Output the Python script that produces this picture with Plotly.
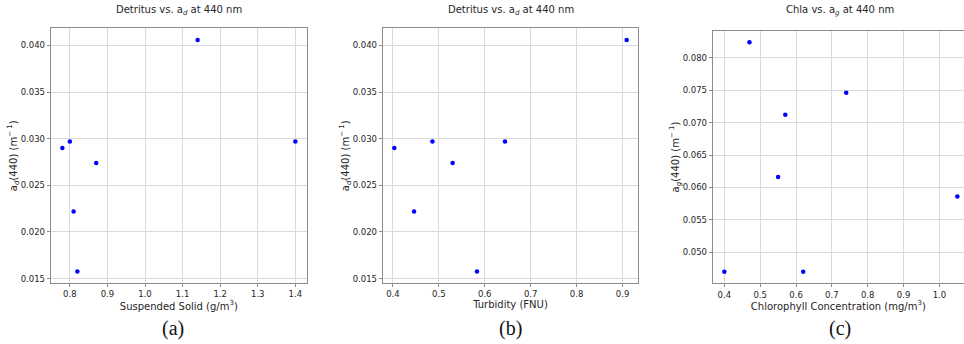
import plotly.graph_objects as go

# ---- data ----
ss_x = [0.78, 0.80, 0.81, 0.82, 0.87, 1.14, 1.40]
ss_y = [0.0290, 0.0297, 0.0222, 0.01575, 0.0274, 0.0406, 0.0297]

turb_x = [0.403, 0.446, 0.486, 0.530, 0.583, 0.644, 0.909]
turb_y = [0.0290, 0.0222, 0.0297, 0.0274, 0.01575, 0.0297, 0.0406]

chla_x = [0.40, 0.47, 0.55, 0.57, 0.62, 0.74, 1.05]
chla_y = [0.0470, 0.0824, 0.0616, 0.0712, 0.0470, 0.0746, 0.0586]

titles = ["Detritus vs. a<sub><i>d</i></sub> at 440 nm",
          "Detritus vs. a<sub><i>d</i></sub> at 440 nm",
          "Chla vs. a<sub><i>g</i></sub> at 440 nm"]
xtitles = ["Suspended Solid (g/m<sup>3</sup>)",
           "Turbidity (FNU)",
           "Chlorophyll Concentration (mg/m<sup>3</sup>)"]
ytitles = ["a<sub><i>d</i></sub>(440) (m<sup>\u2212 1</sup>)",
           "a<sub><i>d</i></sub>(440) (m<sup>\u2212 1</sup>)",
           "a<sub><i>g</i></sub>(440) (m<sup>\u2212 1</sup>)"]
panel_labels = ["(a)", "(b)", "(c)"]

W, H = 964, 344
FONT = "DejaVu Sans"
TXT = "#262626"
GRID = "#dadada"
FRAME = "#8c8c8c"


def pad(v, frac=0.05):
    lo, hi = min(v), max(v)
    m = (hi - lo) * frac
    return [lo - m, hi + m]


# pixel geometry of each panel (left, right, top, bottom); panel (c) extends past the image edge
boxes = [(50.7, 307.0, 28.3, 283.2),
         (382.7, 638.3, 28.3, 283.2),
         (712.7, 969.0, 30.7, 283.3)]
title_cx = [178.8, 510.5, 840.0]
label_cx = [173, 510, 840]

datasets = [(ss_x, ss_y), (turb_x, turb_y), (chla_x, chla_y)]

fig = go.Figure()
layout = dict(
    width=W, height=H,
    margin=dict(l=0, r=0, t=0, b=0),
    paper_bgcolor="white", plot_bgcolor="white",
    showlegend=False,
    font=dict(family=FONT, color=TXT, size=10),
)
annotations = []

for i, ((xs, ys), (l, r, t, b)) in enumerate(zip(datasets, boxes)):
    n = "" if i == 0 else str(i + 1)
    xa = "x" + n
    ya = "y" + n
    fig.add_trace(go.Scatter(x=xs, y=ys, mode="markers", xaxis=xa, yaxis=ya,
                             marker=dict(color="#0000ff", size=4.5), cliponaxis=False))
    xr = pad(xs)
    if r > W:
        # crop the panel at the image edge, keeping the same scale
        frac = (W - l) / (r - l)
        xr = [xr[0], xr[0] + (xr[1] - xr[0]) * frac]
        r = W
    yr = pad(ys)
    common = dict(showgrid=True, gridcolor=GRID, gridwidth=1,
                  showline=True, linecolor=FRAME, linewidth=1,
                  ticks="outside", ticklen=3, tickcolor=FRAME,
                  tickfont=dict(family=FONT, size=8.5, color=TXT),
                  zeroline=False)
    layout["xaxis" + n] = dict(
        common, domain=[l / W, r / W], anchor=ya, range=xr,
        dtick=0.1, tickformat=".1f", mirror=True,
        title=dict(text=xtitles[i], font=dict(family=FONT, size=10, color=TXT), standoff=2),
    )
    layout["yaxis" + n] = dict(
        common, domain=[1 - b / H, 1 - t / H], anchor=xa, range=yr,
        dtick=0.005, tickformat=".3f", mirror=(i != 2),
        title=dict(text=ytitles[i], font=dict(family=FONT, size=10, color=TXT), standoff=1),
    )
    annotations.append(dict(text=titles[i], x=title_cx[i] / W, y=1 - 10 / H, xref="paper", yref="paper",
                            showarrow=False, xanchor="center", yanchor="middle",
                            font=dict(family=FONT, size=10, color=TXT)))
    annotations.append(dict(text=panel_labels[i], x=label_cx[i] / W, y=1 - 328 / H, xref="paper", yref="paper",
                            showarrow=False, xanchor="center", yanchor="middle",
                            font=dict(family="Liberation Serif", size=20, color="#111111")))

layout["annotations"] = annotations
fig.update_layout(**layout)
fig.write_html("out.html")
